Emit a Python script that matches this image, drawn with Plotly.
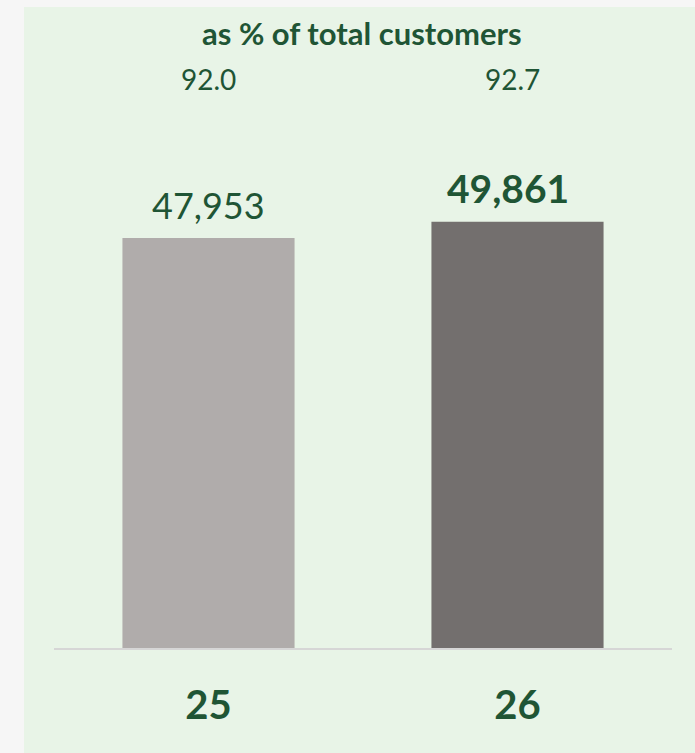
import plotly.graph_objects as go

# Customer counts by year, with share of total customers
years = ["25", "26"]
customers = [47953, 49861]
share_pct = [92.0, 92.7]
bar_colors = ["#b0acab", "#736f6e"]
title_text = "as % of total customers"

GREEN = "#1f5535"
FONT = "Lato"

fig = go.Figure()
fig.add_trace(go.Bar(
    x=years,
    y=customers,
    marker=dict(color=bar_colors, line=dict(width=0)),
    width=0.557,
    hoverinfo="skip",
))

annotations = []
# Header above the chart
annotations.append(dict(
    text=f"<b>{title_text}</b>", xref="paper", yref="paper", x=0.5, y=1,
    xanchor="center", yanchor="middle", yshift=67, xshift=-1,
    showarrow=False, font=dict(family=FONT, size=31, color=GREEN),
))
for i, (val, pct) in enumerate(zip(customers, share_pct)):
    last = i == len(customers) - 1
    # share of total customers
    annotations.append(dict(
        text=f"{pct:.1f}", xref="x", yref="paper", x=i, y=1,
        xanchor="center", yanchor="middle", yshift=21,
        xshift=-5 if last else 0,
        showarrow=False, font=dict(family=FONT, size=28, color=GREEN),
    ))
    # value above each bar; latest year in bold
    label = f"{val:,}"
    annotations.append(dict(
        text=f"<b>{label}</b>" if last else label,
        xref="x", yref="y", x=i, y=val,
        xanchor="center", yanchor="middle", yshift=34 if last else 33,
        xshift=-10 if last else 0,
        showarrow=False,
        font=dict(family=FONT, size=39 if last else 36, color=GREEN),
    ))

y_top = customers[0] * 548 / 410

fig.update_layout(
    width=695, height=753,
    margin=dict(l=54, r=23, t=100, b=105),
    paper_bgcolor="#f6f6f6",
    plot_bgcolor="rgba(0,0,0,0)",
    showlegend=False,
    annotations=annotations,
    shapes=[dict(
        type="rect", xref="paper", yref="paper", layer="below",
        x0=-0.0485, x1=1.2, y0=-0.4, y1=1.1697,
        fillcolor="#e8f4e7", line=dict(width=0),
    )],
    xaxis=dict(
        type="category", range=[-0.5, 1.5], automargin=False,
        showline=True, linecolor="#d6d6d6", linewidth=2,
        showgrid=False, zeroline=False,
        ticks="outside", ticklen=21, tickcolor="rgba(0,0,0,0)",
        tickvals=years, ticktext=[f"<b>{y}</b>" for y in years],
        tickfont=dict(family=FONT, size=40, color=GREEN),
    ),
    yaxis=dict(
        range=[0, y_top], visible=False, showgrid=False, zeroline=False,
        automargin=False,
    ),
    bargap=0.443,
)

fig.write_html("out.html")
